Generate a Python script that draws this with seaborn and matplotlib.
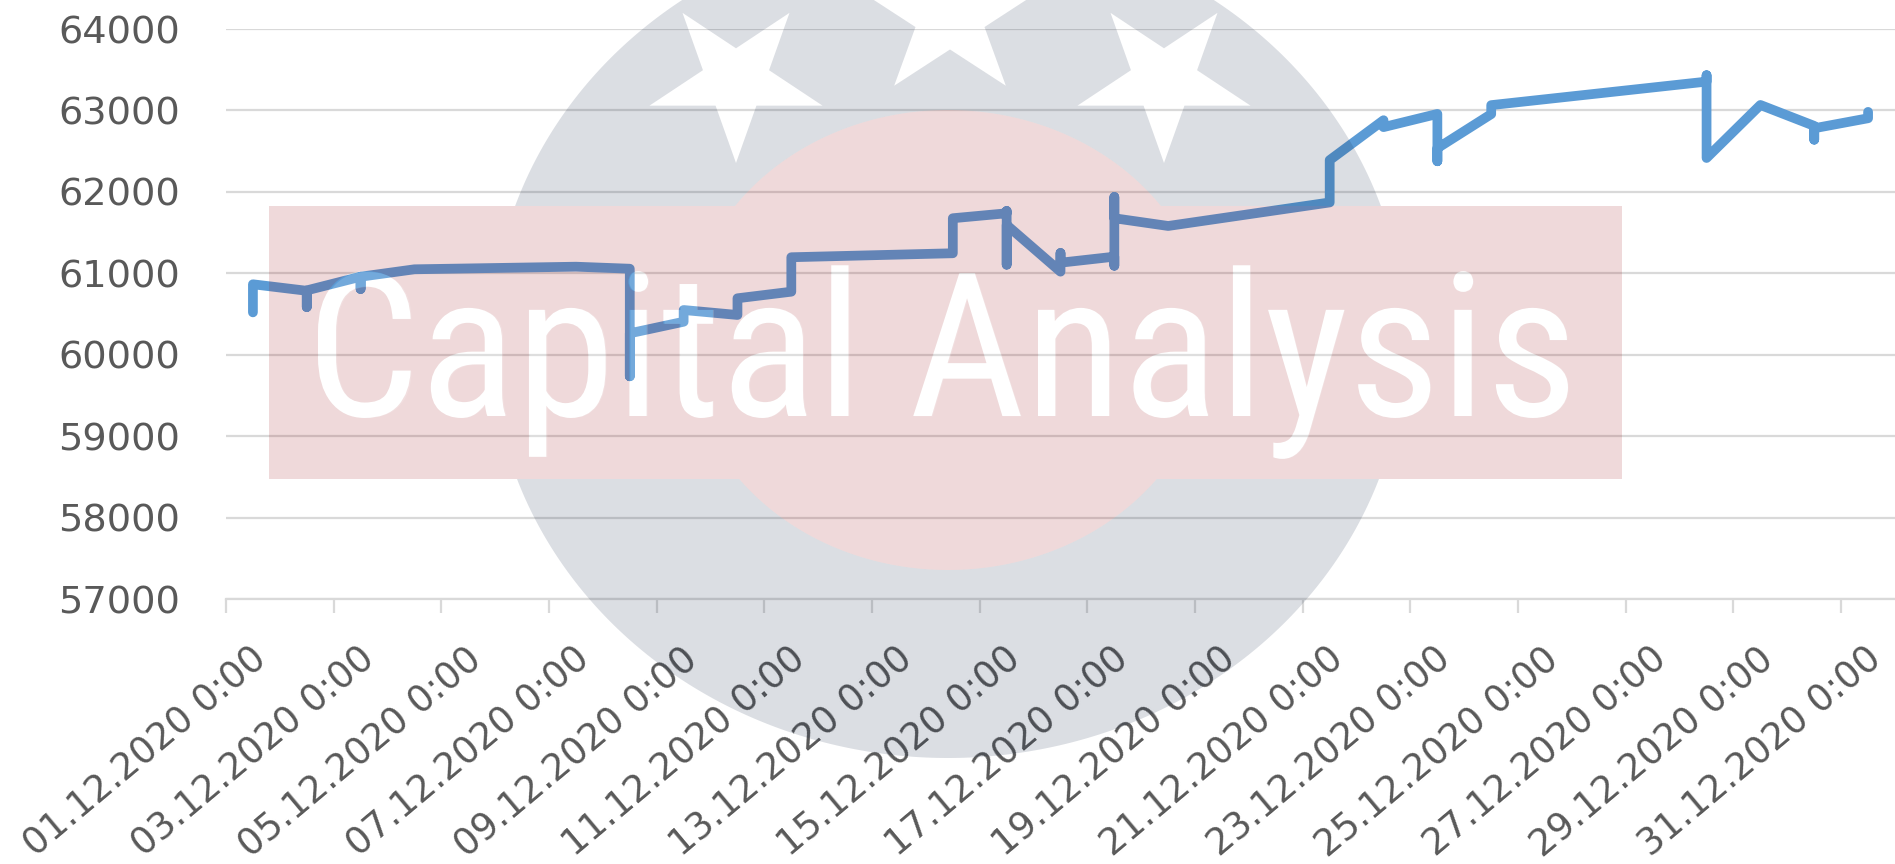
import os
import numpy as np
import pandas as pd
import matplotlib
matplotlib.use("Agg")
import matplotlib.pyplot as plt
import seaborn as sns
from matplotlib.path import Path
from matplotlib.patches import PathPatch
from matplotlib.textpath import TextPath
from matplotlib.font_manager import FontProperties, fontManager
from matplotlib.transforms import Affine2D

##Data - several readings per day, Excel puts all of them on the day slot
point_days = [1, 1, 2, 2, 2, 3, 3, 3, 4, 7, 8, 8, 8, 9, 9, 10, 10, 11, 11,
              14, 14, 15, 15, 15, 15, 16, 16, 16, 17, 17, 17, 17, 18, 21, 21,
              22, 22, 23, 23, 23, 24, 24, 28, 28, 28, 29, 30, 30, 30, 31, 31]
point_values = [60520, 60865, 60785, 60585, 60790, 60958, 60807, 60958, 61049,
                61081, 61056, 59735, 60263, 60405, 60549, 60488, 60693, 60774,
                61197, 61246, 61676, 61737, 61765, 61106, 61593, 61020, 61249,
                61130, 61204, 61093, 61937, 61676, 61581, 61870, 62390, 62880,
                62795, 62957, 62376, 62536, 62955, 63065, 63354, 63432, 62416,
                63067, 62810, 62641, 62781, 62904, 62982]

tick_dates = ["2020-12-01", "2020-12-03", "2020-12-05", "2020-12-07",
              "2020-12-09", "2020-12-11", "2020-12-13", "2020-12-15",
              "2020-12-17", "2020-12-19", "2020-12-21", "2020-12-23",
              "2020-12-25", "2020-12-27", "2020-12-29", "2020-12-31"]
tick_labels = ["01.12.2020 0:00", "03.12.2020 0:00", "05.12.2020 0:00",
               "07.12.2020 0:00", "09.12.2020 0:00", "11.12.2020 0:00",
               "13.12.2020 0:00", "15.12.2020 0:00", "17.12.2020 0:00",
               "19.12.2020 0:00", "21.12.2020 0:00", "23.12.2020 0:00",
               "25.12.2020 0:00", "27.12.2020 0:00", "29.12.2020 0:00",
               "31.12.2020 0:00"]
y_ticks = [57000, 58000, 59000, 60000, 61000, 62000, 63000, 64000]
y_labels = ["57000", "58000", "59000", "60000", "61000", "62000", "63000", "64000"]

WM_TEXT = "Capital Analysis"

df = pd.DataFrame({
    "date": pd.to_datetime([f"2020-12-{d:02d}" for d in point_days]) + pd.Timedelta(hours=12),
    "value": point_values,
})

##Style
sns.set_style("white")
plt.rcParams["font.family"] = ["DejaVu Sans"]

W, H, DPI = 1895, 864, 100
fig = plt.figure(figsize=(W / DPI, H / DPI), dpi=DPI)
ax = fig.add_axes([226 / W, 1 - 599 / H, (W - 226) / W, (599 - 29) / H])

LINE = "#5B9BD5"
GRID = "#D9D9D9"
TXT = "#595959"

sns.lineplot(data=df, x="date", y="value", estimator=None, sort=False, ax=ax,
             color=LINE, linewidth=7, solid_capstyle="round",
             solid_joinstyle="round")

ax.set_xlim(pd.Timestamp("2020-12-01"), pd.Timestamp("2021-01-01"))
ax.set_ylim(57000, 64000)
ax.set_yticks(y_ticks, labels=y_labels)
ax.grid(axis="y", color=GRID, linewidth=1.6)
ax.set_axisbelow(True)

tick_pos = pd.to_datetime(tick_dates)
ax.set_xticks(tick_pos, minor=True)
ax.set_xticks(tick_pos + pd.Timedelta(hours=16), labels=tick_labels)
ax.tick_params(axis="x", which="minor", length=10, width=1.6, color=GRID,
               direction="out", bottom=True)
ax.tick_params(axis="x", which="major", length=0, pad=40, labelsize=26.5,
               labelcolor=TXT)
ax.tick_params(axis="y", length=0, pad=33, labelsize=27.6, labelcolor=TXT)
for lab in ax.get_xticklabels():
    lab.set_rotation(40)
    lab.set_ha("right")
    lab.set_va("center")
    lab.set_rotation_mode("anchor")

for s in ["top", "right", "left"]:
    ax.spines[s].set_visible(False)
ax.spines["bottom"].set_color(GRID)
ax.spines["bottom"].set_linewidth(1.6)
ax.set_xlabel("")
ax.set_ylabel("")

##Watermark - drawn on top in pixel coordinates, 15% opaque like the logo image
wm = fig.add_axes([0, 0, 1, 1], zorder=5)
wm.set_xlim(0, W)
wm.set_ylim(H, 0)
wm.axis("off")
wm.patch.set_alpha(0)

CX, CY = 948, 340
GX, GY = 457, 418   # navy disc
PX, PY = 262, 230   # red disc
RX0, RX1, RY0, RY1 = 269, 1622, 206, 479   # red band
ALPHA = 0.15
NAVY = "#0F2344"
RED = "#940208"


def arc(rx, ry, t0, t1, n=240):
    t = np.linspace(t0, t1, n)
    return np.column_stack([CX + rx * np.cos(t), CY + ry * np.sin(t)])


def star(cx, cy, rx, ry, up):
    k = np.arange(10)
    ang = np.deg2rad(k * 36 + (-90 if up else 90))
    r = np.where(k % 2 == 0, 1.0, 0.382)
    return np.column_stack([cx + rx * r * np.cos(ang), cy + ry * r * np.sin(ang)])


def area(p):
    x, y = p[:, 0], p[:, 1]
    return 0.5 * np.sum(x * np.roll(y, -1) - np.roll(x, -1) * y)


def orient(p, sign):
    return p if np.sign(area(p)) == sign else p[::-1]


def closed(p):
    verts = np.vstack([p, p[:1]])
    codes = [Path.MOVETO] + [Path.LINETO] * (len(p) - 1) + [Path.CLOSEPOLY]
    return Path(verts, codes)


th0 = np.arcsin((RY0 - CY) / GY)
ph0 = np.arcsin((RY0 - CY) / PY)
th1 = np.arcsin((RY1 - CY) / GY)
ph1 = np.arcsin((RY1 - CY) / PY)

navy_top = np.vstack([arc(GX, GY, np.pi - th0, 2 * np.pi + th0),
                      arc(PX, PY, 2 * np.pi + ph0, np.pi - ph0)])
navy_bot = np.vstack([arc(GX, GY, th1, np.pi - th1),
                      arc(PX, PY, np.pi - ph1, ph1)])
red_band = np.vstack([[[RX0, RY0]], arc(PX, PY, np.pi - ph0, 2 * np.pi + ph0),
                      [[RX1, RY0], [RX1, RY1]], arc(PX, PY, ph1, np.pi - ph1),
                      [[RX0, RY1]]])

stars = [star(736, 80, 91, 83, False), star(950, 17, 95, 85, True),
         star(1164, 80, 91, 83, False)]

navy_path = Path.make_compound_path(
    closed(orient(navy_top, 1)), *[closed(orient(s, -1)) for s in stars])
wm.add_patch(PathPatch(navy_path, facecolor=NAVY, edgecolor="none", alpha=ALPHA))
wm.add_patch(PathPatch(closed(navy_bot), facecolor=NAVY, edgecolor="none", alpha=ALPHA))

# a condensed face if one is installed, the logo lettering is narrow
files = [f.fname for f in fontManager.ttflist]
wanted = ["RobotoCondensed-Regular", "LiberationSansNarrow-Regular",
          "DejaVuSansCondensed.ttf"]
pick = None
for w in wanted:
    hits = [f for f in files if w in os.path.basename(f)]
    if hits:
        pick = hits[0]
        break
fp = FontProperties(fname=pick) if pick else FontProperties(family="Liberation Sans")

t100 = TextPath((0, 0), WM_TEXT, size=100, prop=fp).get_extents()
size_px = 100 * 1250 / t100.width
tp = TextPath((0, 0), WM_TEXT, size=size_px, prop=fp)
ext = tp.get_extents()
MID, BASE = 943, 416
tpath = (Affine2D().translate(-(ext.x0 + ext.x1) / 2, 0).scale(1, -1)
         .translate(MID, BASE).transform_path(tp))
polys = tpath.to_polygons()
text_sign = np.sign(area(max(polys, key=lambda p: abs(area(p)))))

red_path = Path.make_compound_path(closed(orient(red_band, -text_sign)), tpath)
wm.add_patch(PathPatch(red_path, facecolor=RED, edgecolor="none", alpha=ALPHA))

wm.text(MID, BASE, WM_TEXT, fontproperties=fp, fontsize=size_px * 72 / DPI,
        color="white", alpha=ALPHA, ha="center", va="baseline")

fig.savefig("out.png", dpi=DPI)
